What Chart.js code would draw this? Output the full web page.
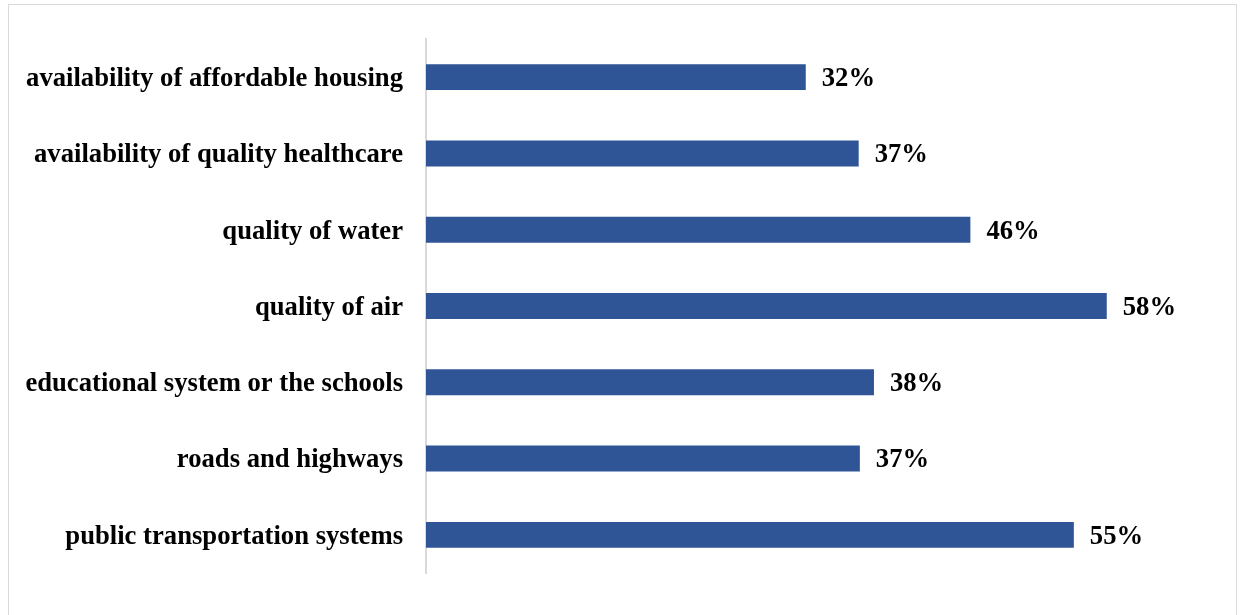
<!DOCTYPE html>
<html>
<head>
<meta charset="utf-8">
<script src="https://cdn.jsdelivr.net/npm/chart.js@4"></script>
<style>
  html, body { margin: 0; padding: 0; background: #fff; overflow: hidden; }
  #frame { position: absolute; left: 8px; top: 4px; width: 1229px; height: 620px; border: 1px solid #d9d9d9; box-sizing: border-box; }
  #chart { position: absolute; left: 0; top: 0; }
</style>
</head>
<body>
<div id="frame"></div>
<canvas id="chart" width="1240" height="615"></canvas>
<script>
const categories = [
  "availability of affordable housing",
  "availability of quality healthcare",
  "quality of water",
  "quality of air",
  "educational system or the schools",
  "roads and highways",
  "public transportation systems",
];
const shares = [32.3, 36.8, 46.3, 57.9, 38.1, 36.9, 55.1];

const FONT = '"Liberation Serif", "Times New Roman", serif';

// draw the % value just right of each bar
const valueLabels = {
  id: "valueLabels",
  afterDatasetsDraw(chart) {
    const ctx = chart.ctx;
    const meta = chart.getDatasetMeta(0);
    ctx.save();
    ctx.font = "bold 26.67px " + FONT;
    ctx.fillStyle = "#000";
    ctx.textAlign = "left";
    ctx.textBaseline = "middle";
    meta.data.forEach((bar, i) => {
      ctx.fillText(Math.round(shares[i]) + "%", bar.x + 16, bar.y + 2);
    });
    ctx.restore();
  },
};

new Chart(document.getElementById("chart"), {
  type: "bar",
  data: {
    labels: categories,
    datasets: [
      {
        data: shares,
        backgroundColor: "#2F5597",
        barPercentage: 0.34,
        categoryPercentage: 1,
      },
    ],
  },
  options: {
    indexAxis: "y",
    responsive: false,
    animation: false,
    layout: { padding: { top: 38, bottom: 42, left: 0, right: 38 } },
    scales: {
      x: {
        display: false,
        min: 0,
        max: 66,
      },
      y: {
        grid: { display: false, drawTicks: false },
        border: { display: true, color: "#d9d9d9", width: 2 },
        ticks: {
          color: "#000",
          padding: 23,
          labelOffset: 2,
          font: { family: FONT, size: 26.67, weight: "bold" },
        },
        afterFit: (scale) => {
          scale.width = 426;
        },
      },
    },
    plugins: {
      legend: { display: false },
      tooltip: { enabled: false },
    },
  },
  plugins: [valueLabels],
});
</script>
</body>
</html>
